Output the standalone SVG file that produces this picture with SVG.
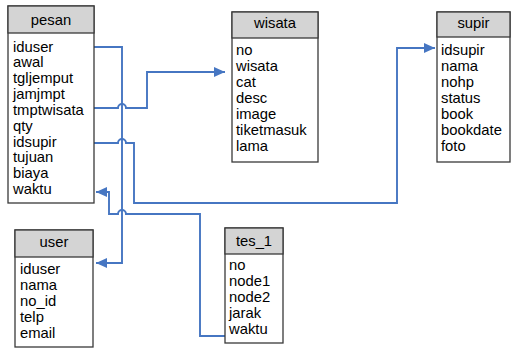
<svg xmlns="http://www.w3.org/2000/svg" width="511" height="348" viewBox="0 0 511 348">
<style>
.box{fill:#ffffff;stroke:#3a3a3a;stroke-width:1.3}
.hdr{fill:#d4d4d4;stroke:#3a3a3a;stroke-width:1.3}
text{font-family:"Liberation Sans",Arial,sans-serif;font-size:14.8px;fill:#000}
.h{text-anchor:middle}
.conn{fill:none;stroke:#4676c2;stroke-width:1.9}
</style>
<defs>
<marker id="arr" markerUnits="userSpaceOnUse" markerWidth="12" markerHeight="11" refX="11" refY="5" orient="auto">
<path d="M0,0 L11,5 L0,10 z" fill="#4676c2"/>
</marker>
</defs>
<rect width="511" height="348" fill="#ffffff"/>
<g id="connectors">
<path class="conn" d="M94,47 H122 V263 H96" marker-end="url(#arr)"/>
<path class="conn" d="M94,108 H118 A4,4 0 0 1 126,108 H147 V72 H225" marker-end="url(#arr)"/>
<path class="conn" d="M94,143 H118 A4,4 0 0 1 126,143 H134 V203 H397 V48 H435" marker-end="url(#arr)"/>
<path class="conn" d="M225,336 H200 V214 H126 A4,4 0 0 0 118,214 H109 V192 H96" marker-end="url(#arr)"/>
</g>
<g id="pesan">
<rect class="box" x="8" y="6" width="86" height="197"/>
<rect class="hdr" x="8" y="6" width="86" height="27"/>
<text class="h" x="51" y="25">pesan</text>
<text x="13" y="51.5">iduser</text>
<text x="13" y="67.3">awal</text>
<text x="13" y="83.2">tgljemput</text>
<text x="13" y="99">jamjmpt</text>
<text x="13" y="114.9">tmptwisata</text>
<text x="13" y="130.7">qty</text>
<text x="13" y="146.6">idsupir</text>
<text x="13" y="162.4">tujuan</text>
<text x="13" y="178.3">biaya</text>
<text x="13" y="194.1">waktu</text>
</g>
<g id="wisata">
<rect class="box" x="232" y="12" width="86" height="150"/>
<rect class="hdr" x="232" y="12" width="86" height="26"/>
<text class="h" x="275" y="28">wisata</text>
<text x="236" y="55">no</text>
<text x="236" y="71">wisata</text>
<text x="236" y="87">cat</text>
<text x="236" y="103">desc</text>
<text x="236" y="119">image</text>
<text x="236" y="135">tiketmasuk</text>
<text x="236" y="151">lama</text>
</g>
<g id="supir">
<rect class="box" x="437" y="12" width="73" height="150"/>
<rect class="hdr" x="437" y="12" width="73" height="25"/>
<text class="h" x="473.5" y="28">supir</text>
<text x="441" y="55">idsupir</text>
<text x="441" y="71">nama</text>
<text x="441" y="87">nohp</text>
<text x="441" y="103">status</text>
<text x="441" y="119">book</text>
<text x="441" y="135">bookdate</text>
<text x="441" y="151">foto</text>
</g>
<g id="user">
<rect class="box" x="15" y="230" width="78" height="117"/>
<rect class="hdr" x="15" y="230" width="78" height="27"/>
<text class="h" x="54" y="246.5">user</text>
<text x="20" y="274.3">iduser</text>
<text x="20" y="290.3">nama</text>
<text x="20" y="306.3">no_id</text>
<text x="20" y="322.3">telp</text>
<text x="20" y="338.3">email</text>
</g>
<g id="tes_1">
<rect class="box" x="225" y="228" width="58" height="115"/>
<rect class="hdr" x="225" y="228" width="58" height="26"/>
<text class="h" x="254" y="245.5">tes_1</text>
<text x="229" y="270">no</text>
<text x="229" y="286">node1</text>
<text x="229" y="302">node2</text>
<text x="229" y="318">jarak</text>
<text x="229" y="334">waktu</text>
</g>
</svg>
